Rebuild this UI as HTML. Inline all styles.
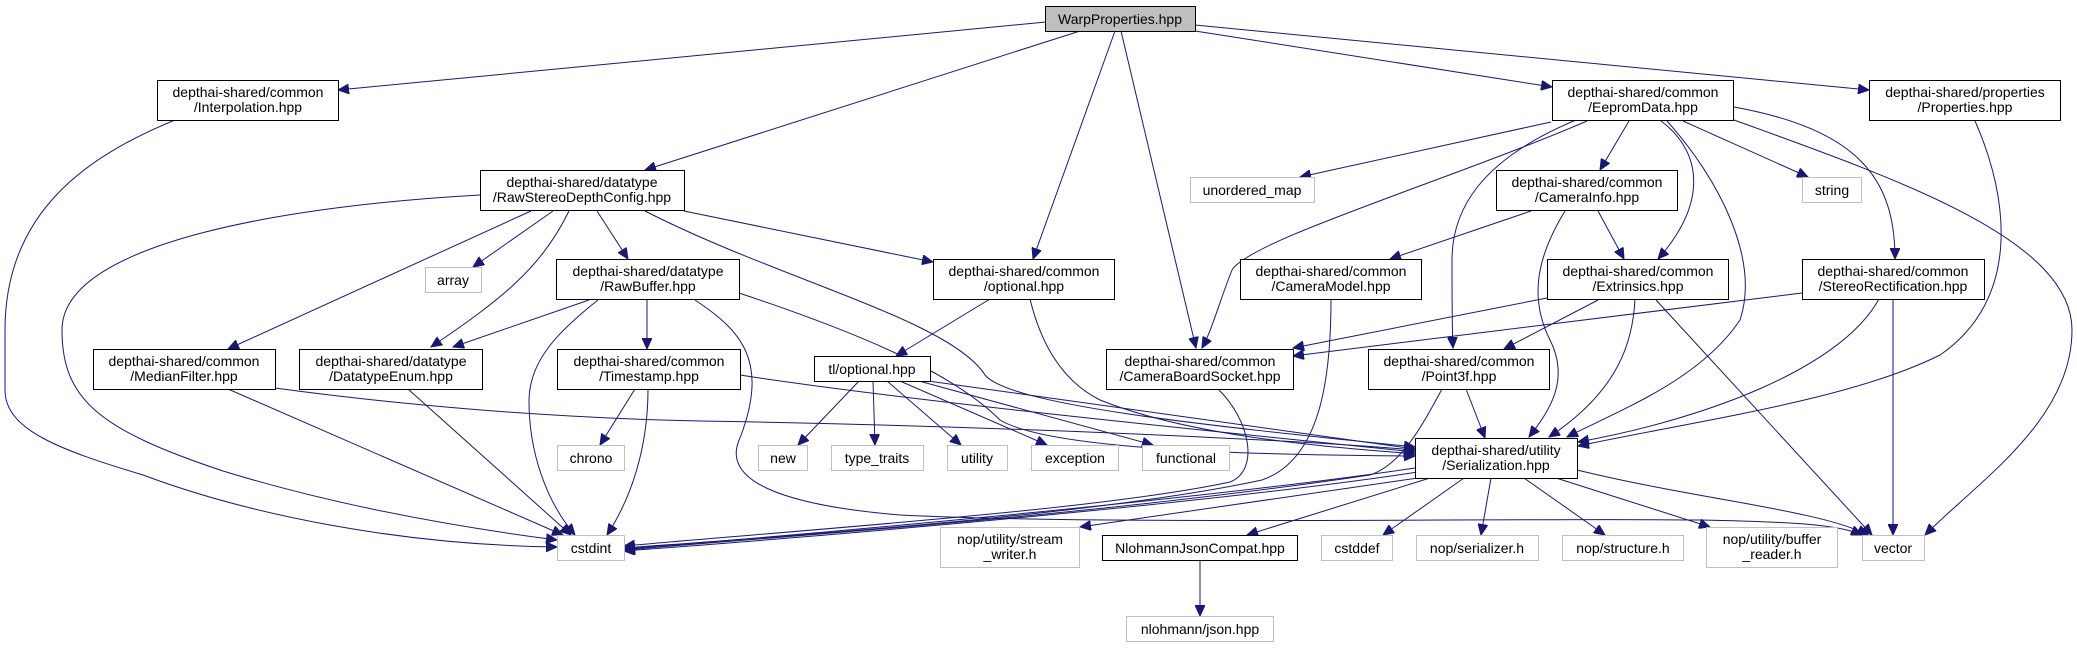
<!DOCTYPE html>
<html><head><meta charset="utf-8"><style>
html,body{margin:0;padding:0;background:#fff;}
svg{display:block;}
text{font-family:"Liberation Sans",sans-serif;font-size:14px;fill:#000;text-anchor:middle;}
.n{fill:#fff;stroke:#000;stroke-width:1;}
.g{fill:#fff;stroke:#bfbfbf;stroke-width:1;}
.e{fill:none;stroke:#191970;stroke-width:1;marker-end:url(#a);}
</style></head><body>
<svg width="2077" height="648" viewBox="0 0 2077 648" xmlns="http://www.w3.org/2000/svg">
<defs><marker id="a" markerUnits="userSpaceOnUse" markerWidth="12" markerHeight="10" refX="11" refY="5" orient="auto"><path d="M0,0 L11,5 L0,10 z" fill="#191970" stroke="#191970"/></marker></defs>

<!-- edges -->
<path class="e" d="M1046,22 L338,90"/>
<path class="e" d="M1080,31 L645,170"/>
<path class="e" d="M1115,31 L1033,259"/>
<path class="e" d="M1121,31 L1196,348"/>
<path class="e" d="M1195,31 L1552,87"/>
<path class="e" d="M1195,25 L1869,90"/>
<path class="e" d="M175,120 C90,155 5,210 5,330 L5,390 C5,430 60,450 143,475 C250,515 400,545 557,547"/>
<path class="e" d="M480,195 C300,205 62,240 62,330 C62,400 100,430 223,471 C350,510 480,530 557,540"/>
<path class="e" d="M553,211 L473,267"/>
<path class="e" d="M531,211 L228,349"/>
<path class="e" d="M569,211 C540,270 500,300 431,347"/>
<path class="e" d="M597,211 L628,259"/>
<path class="e" d="M684,211 L933,262"/>
<path class="e" d="M645,211 C780,280 950,320 985,375 C1010,405 1200,425 1415,447"/>
<path class="e" d="M589,300 L453,347"/>
<path class="e" d="M598,300 C560,330 529,360 529,401 C529,450 545,500 575,535"/>
<path class="e" d="M647,300 L647,349"/>
<path class="e" d="M739,293 C850,330 950,370 1000,420 C1050,450 1250,455 1415,456"/>
<path class="e" d="M695,300 C740,330 770,360 740,438 C720,480 780,505 900,515 C1100,525 1500,518 1700,520 C1800,522 1840,525 1862,535"/>
<path class="e" d="M635,389 L600,445"/>
<path class="e" d="M648,389 C648,450 630,500 607,535"/>
<path class="e" d="M740,375 C900,400 1200,430 1415,452"/>
<path class="e" d="M228,389 L563,535"/>
<path class="e" d="M275,388 C400,405 550,418 700,421 C1000,426 1300,440 1415,450"/>
<path class="e" d="M408,389 L571,535"/>
<path class="e" d="M990,299 L896,356"/>
<path class="e" d="M1030,299 C1040,340 1060,380 1100,400 C1200,440 1350,448 1415,454"/>
<path class="e" d="M859,381 L798,445"/>
<path class="e" d="M873,381 L875,445"/>
<path class="e" d="M887,381 L961,445"/>
<path class="e" d="M900,381 L1047,445"/>
<path class="e" d="M919,381 L1153,445"/>
<path class="e" d="M928,381 L1415,449"/>
<path class="e" d="M1218,389 C1250,420 1260,470 1230,482 C1100,510 800,530 624,546"/>
<path class="e" d="M1331,299 C1331,380 1320,460 1262,480 C1100,515 800,535 624,548"/>
<path class="e" d="M1442,389 C1420,430 1400,465 1370,475 C1100,515 800,535 624,550"/>
<path class="e" d="M1415,468 C1200,500 800,535 624,549"/>
<path class="e" d="M1418,472 C1200,505 800,538 624,551"/>
<path class="e" d="M1466,389 L1485,438"/>
<path class="e" d="M1418,478 L1080,527"/>
<path class="e" d="M1430,478 L1247,535"/>
<path class="e" d="M1464,478 L1383,535"/>
<path class="e" d="M1491,478 L1481,535"/>
<path class="e" d="M1524,478 L1605,535"/>
<path class="e" d="M1556,478 L1710,527"/>
<path class="e" d="M1577,470 C1700,500 1820,510 1868,535"/>
<path class="e" d="M1200,560 L1200,616"/>
<path class="e" d="M1551,122 L1300,177"/>
<path class="e" d="M1587,121 C1450,180 1250,240 1232,270 C1220,300 1212,330 1202,348"/>
<path class="e" d="M1629,121 L1600,170"/>
<path class="e" d="M1661,121 C1700,150 1710,200 1658,259"/>
<path class="e" d="M1667,121 C1720,180 1760,260 1740,320 C1700,380 1620,410 1567,437"/>
<path class="e" d="M1576,120 C1480,160 1452,210 1452,260 C1452,300 1452,330 1453,348"/>
<path class="e" d="M1734,107 C1860,130 1895,180 1895,259"/>
<path class="e" d="M1683,121 L1808,177"/>
<path class="e" d="M1734,120 C1900,180 2072,240 2072,330 C2072,420 1980,480 1925,535"/>
<path class="e" d="M1975,121 C2010,200 2020,300 1940,355 C1850,400 1700,420 1578,446"/>
<path class="e" d="M1531,211 L1390,259"/>
<path class="e" d="M1598,211 L1624,259"/>
<path class="e" d="M1565,211 C1535,260 1530,300 1550,340 C1570,380 1550,410 1529,437"/>
<path class="e" d="M1547,298 L1293,348"/>
<path class="e" d="M1802,293 L1293,356"/>
<path class="e" d="M1598,300 L1504,349"/>
<path class="e" d="M1635,299 C1633,340 1620,390 1549,437"/>
<path class="e" d="M1656,300 L1872,535"/>
<path class="e" d="M1879,299 C1840,370 1700,420 1578,442"/>
<path class="e" d="M1893,299 L1893,535"/>

<!-- nodes -->
<rect x="1045.5" y="6.5" width="150" height="25" fill="#bfbfbf" stroke="#000"/><text x="1120" y="24">WarpProperties.hpp</text>

<rect class="n" x="157.5" y="80.5" width="181" height="40"/><text x="248" y="97">depthai-shared/common</text><text x="248" y="112">/Interpolation.hpp</text>
<rect class="n" x="480.5" y="170.5" width="204" height="40"/><text x="582" y="187">depthai-shared/datatype</text><text x="582" y="202">/RawStereoDepthConfig.hpp</text>
<rect class="g" x="425.5" y="267.5" width="56" height="25"/><text x="453" y="285">array</text>
<rect class="n" x="556.5" y="259.5" width="183" height="40"/><text x="648" y="276">depthai-shared/datatype</text><text x="648" y="291">/RawBuffer.hpp</text>
<rect class="n" x="933.5" y="259.5" width="181" height="40"/><text x="1024" y="276">depthai-shared/common</text><text x="1024" y="291">/optional.hpp</text>
<rect class="g" x="1190.5" y="177.5" width="124" height="25"/><text x="1252" y="195">unordered_map</text>
<rect class="n" x="1240.5" y="259.5" width="181" height="40"/><text x="1331" y="276">depthai-shared/common</text><text x="1331" y="291">/CameraModel.hpp</text>
<rect class="n" x="1552.5" y="80.5" width="181" height="40"/><text x="1643" y="97">depthai-shared/common</text><text x="1643" y="112">/EepromData.hpp</text>
<rect class="n" x="1869.5" y="80.5" width="191" height="40"/><text x="1965" y="97">depthai-shared/properties</text><text x="1965" y="112">/Properties.hpp</text>
<rect class="n" x="1496.5" y="170.5" width="181" height="40"/><text x="1587" y="187">depthai-shared/common</text><text x="1587" y="202">/CameraInfo.hpp</text>
<rect class="g" x="1802.5" y="177.5" width="59" height="25"/><text x="1832" y="195">string</text>
<rect class="n" x="1547.5" y="259.5" width="181" height="40"/><text x="1638" y="276">depthai-shared/common</text><text x="1638" y="291">/Extrinsics.hpp</text>
<rect class="n" x="1802.5" y="259.5" width="182" height="40"/><text x="1893" y="276">depthai-shared/common</text><text x="1893" y="291">/StereoRectification.hpp</text>
<rect class="n" x="93.5" y="349.5" width="182" height="40"/><text x="184" y="366">depthai-shared/common</text><text x="184" y="381">/MedianFilter.hpp</text>
<rect class="n" x="299.5" y="349.5" width="183" height="40"/><text x="391" y="366">depthai-shared/datatype</text><text x="391" y="381">/DatatypeEnum.hpp</text>
<rect class="n" x="557.5" y="349.5" width="183" height="40"/><text x="649" y="366">depthai-shared/common</text><text x="649" y="381">/Timestamp.hpp</text>
<rect class="g" x="557.5" y="445.5" width="67" height="25"/><text x="591" y="463">chrono</text>
<rect class="g" x="557.5" y="535.5" width="67" height="25"/><text x="591" y="553">cstdint</text>
<rect class="n" x="814.5" y="356.5" width="116" height="25"/><text x="872" y="374">tl/optional.hpp</text>
<rect class="n" x="1106.5" y="349.5" width="187" height="40"/><text x="1200" y="366">depthai-shared/common</text><text x="1200" y="381">/CameraBoardSocket.hpp</text>
<rect class="n" x="1368.5" y="349.5" width="181" height="40"/><text x="1459" y="366">depthai-shared/common</text><text x="1459" y="381">/Point3f.hpp</text>
<rect class="g" x="758.5" y="445.5" width="49" height="25"/><text x="783" y="463">new</text>
<rect class="g" x="831.5" y="445.5" width="92" height="25"/><text x="877" y="463">type_traits</text>
<rect class="g" x="947.5" y="445.5" width="60" height="25"/><text x="977" y="463">utility</text>
<rect class="g" x="1031.5" y="445.5" width="87" height="25"/><text x="1075" y="463">exception</text>
<rect class="g" x="1142.5" y="445.5" width="87" height="25"/><text x="1186" y="463">functional</text>
<rect class="n" x="1415.5" y="438.5" width="162" height="40" stroke="#404040"/><text x="1496" y="455">depthai-shared/utility</text><text x="1496" y="470">/Serialization.hpp</text>
<rect class="g" x="940.5" y="527.5" width="139" height="40"/><text x="1010" y="544">nop/utility/stream</text><text x="1010" y="559">_writer.h</text>
<rect class="n" x="1102.5" y="535.5" width="195" height="25"/><text x="1200" y="553">NlohmannJsonCompat.hpp</text>
<rect class="g" x="1321.5" y="535.5" width="71" height="25"/><text x="1357" y="553">cstddef</text>
<rect class="g" x="1416.5" y="535.5" width="122" height="25"/><text x="1477" y="553">nop/serializer.h</text>
<rect class="g" x="1562.5" y="535.5" width="121" height="25"/><text x="1623" y="553">nop/structure.h</text>
<rect class="g" x="1706.5" y="527.5" width="131" height="40"/><text x="1772" y="544">nop/utility/buffer</text><text x="1772" y="559">_reader.h</text>
<rect class="g" x="1862.5" y="535.5" width="62" height="25"/><text x="1893" y="553">vector</text>
<rect class="g" x="1126.5" y="616.5" width="147" height="25"/><text x="1200" y="634">nlohmann/json.hpp</text>
</svg>
</body></html>
